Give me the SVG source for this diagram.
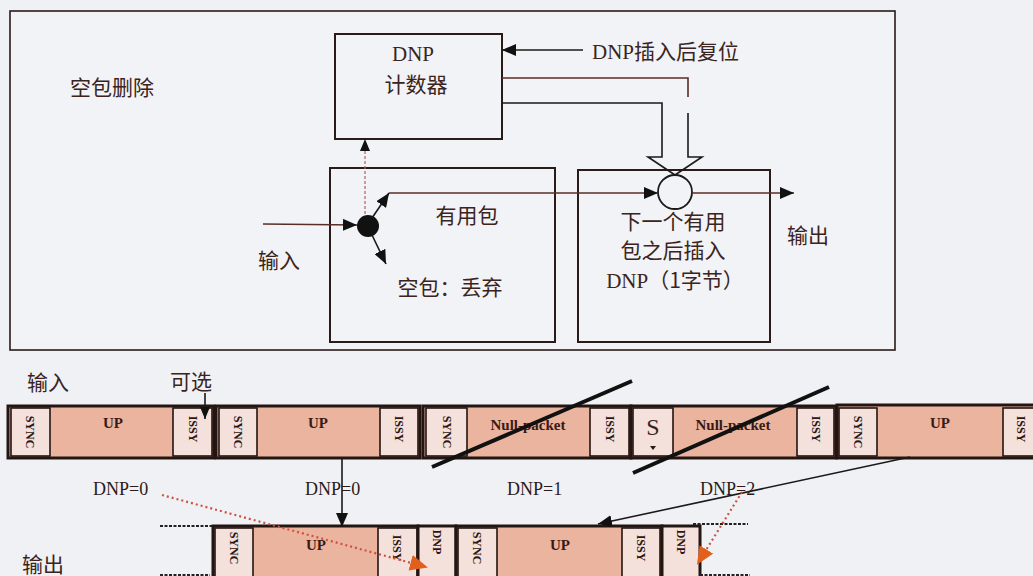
<svg xmlns="http://www.w3.org/2000/svg" width="1033" height="576" viewBox="0 0 1033 576">
<defs>
<style>
.cn{font-family:"Noto Sans CJK SC","Noto Sans",sans-serif;font-size:21px;fill:#3b2420}
.lat{font-family:"Liberation Serif",serif;fill:#3b2420}
.ln{fill:none;stroke:#5a2c26;stroke-width:1.6}
.bk{fill:none;stroke:#1a1a1a;stroke-width:1.6}
.box{fill:none;stroke:#2a1a18;stroke-width:2}
.pkt{fill:#eab49e;stroke:#231512;stroke-width:3}
.pktl{fill:#f5e1db;stroke:#231512;stroke-width:3}
.sm{fill:#f5e1db;stroke:#231512;stroke-width:1.6}
.rt{font-family:"Liberation Serif",serif;font-weight:bold;font-size:12px;fill:#2a1612}
.up{font-family:"Liberation Serif",serif;font-weight:bold;font-size:15px;fill:#3a1a14}
.dnp{font-family:"Liberation Serif",serif;font-size:18px;fill:#2a1a18}
.strike{stroke:#111;stroke-width:4;fill:none}
.dash{stroke:#222;stroke-width:2;stroke-dasharray:3 1.5;fill:none}
.red{stroke:#d05040;stroke-width:2.2;stroke-dasharray:2 3;fill:none}
</style>
<marker id="ah" markerUnits="userSpaceOnUse" markerWidth="14" markerHeight="12" refX="14" refY="6" orient="auto"><path d="M0,0 L14,6 L0,12 z" fill="#111"/></marker>
<marker id="ahs" markerUnits="userSpaceOnUse" markerWidth="12" markerHeight="10" refX="12" refY="5" orient="auto"><path d="M0,0 L12,5 L0,10 z" fill="#111"/></marker>
<marker id="ao" markerUnits="userSpaceOnUse" markerWidth="18" markerHeight="16" refX="16" refY="8" orient="auto"><path d="M0,0 L18,8 L0,16 z" fill="#e0601c"/></marker>
</defs>
<rect x="0" y="0" width="1033" height="576" fill="#f0f1f4"/>

<g id="panel">
<rect x="10" y="11" width="885" height="339" fill="#f2f3f6" stroke="#2a1a18" stroke-width="1.6"/>
<text class="cn" x="70" y="95">空包删除</text>
</g>

<g id="counter">
<rect class="box" x="335" y="34" width="167" height="105" fill="#f2f3f6"/>
<text class="lat" x="413" y="61" text-anchor="middle" font-size="21">DNP</text>
<text class="cn" x="416" y="92" text-anchor="middle">计数器</text>
</g>

<g id="filter">
<rect class="box" x="330" y="168" width="225" height="174"/>
<text class="cn" x="467" y="223" text-anchor="middle">有用包</text>
<text class="cn" x="450" y="295" text-anchor="middle">空包：丢弃</text>
</g>

<g id="insert">
<rect class="box" x="578" y="170" width="192" height="172"/>
<text class="cn" x="673" y="229" text-anchor="middle">下一个有用</text>
<text class="cn" x="673" y="258" text-anchor="middle">包之后插入</text>
<text x="675" y="288" text-anchor="middle"><tspan class="lat" font-size="21">DNP</tspan><tspan class="cn">（1字节）</tspan></text>
</g>

<g id="junction">
<circle cx="368" cy="226" r="11" fill="#111"/>
</g>

<g id="merge">
<circle cx="675" cy="192" r="17" fill="#f2f3f6" stroke="#1a1a1a" stroke-width="1.8"/>
</g>

<g id="labels-top">
<text class="cn" x="258" y="268">输入</text>
<text class="cn" x="787" y="243">输出</text>
<text x="592" y="59"><tspan class="lat" font-size="21">DNP</tspan><tspan class="cn">插入后复位</tspan></text>
</g>

<g id="labels-bottom">
<text class="cn" x="27" y="390">输入</text>
<text class="cn" x="170" y="389">可选</text>
<text class="cn" x="22" y="572">输出</text>
<text class="dnp" x="93" y="495">DNP=0</text>
<text class="dnp" x="305" y="495">DNP=0</text>
<text class="dnp" x="507" y="495">DNP=1</text>
<text class="dnp" x="700" y="495">DNP=2</text>
</g>

<g id="in-p1">
<rect class="pkt" x="8" y="406" width="206" height="52"/>
<rect class="sm" x="11" y="408" width="39" height="48"/>
<rect class="sm" x="173" y="408" width="39" height="48"/>
<text class="up" x="113" y="428" text-anchor="middle">UP</text>
<text class="rt" transform="translate(30,432) rotate(90)" text-anchor="middle" dominant-baseline="central">SYNC</text>
<text class="rt" transform="translate(193,429) rotate(90)" text-anchor="middle" dominant-baseline="central">ISSY</text>
</g>
<g id="in-p2">
<rect class="pkt" x="216" y="406" width="204" height="52"/>
<rect class="sm" x="219" y="408" width="38" height="48"/>
<rect class="sm" x="380" y="408" width="38" height="48"/>
<text class="up" x="318" y="428" text-anchor="middle">UP</text>
<text class="rt" transform="translate(238,432) rotate(90)" text-anchor="middle" dominant-baseline="central">SYNC</text>
<text class="rt" transform="translate(399,429) rotate(90)" text-anchor="middle" dominant-baseline="central">ISSY</text>
</g>
<g id="in-p3">
<rect class="pkt" x="423" y="406" width="208" height="52"/>
<rect class="sm" x="426" y="408" width="41" height="48"/>
<rect class="sm" x="590" y="408" width="39" height="48"/>
<text class="up" x="528" y="430" text-anchor="middle">Null-packet</text>
<text class="rt" transform="translate(447,432) rotate(90)" text-anchor="middle" dominant-baseline="central">SYNC</text>
<text class="rt" transform="translate(610,429) rotate(90)" text-anchor="middle" dominant-baseline="central">ISSY</text>
</g>
<g id="in-p4">
<rect class="pkt" x="631" y="406" width="205" height="52"/>
<rect class="sm" x="633" y="408" width="40" height="48"/>
<rect class="sm" x="797" y="408" width="37" height="48"/>
<text class="lat" x="653" y="435" text-anchor="middle" font-size="24">S</text>
<path d="M650,446 L656,446 L653,450 z" fill="#2a1612"/>
<text class="up" x="733" y="430" text-anchor="middle">Null-packet</text>
<text class="rt" transform="translate(816,429) rotate(90)" text-anchor="middle" dominant-baseline="central">ISSY</text>
</g>
<g id="in-p5">
<rect class="pkt" x="837" y="405" width="205" height="53"/>
<rect class="sm" x="839" y="408" width="38" height="48"/>
<rect class="sm" x="1003" y="408" width="38" height="48"/>
<text class="up" x="940" y="428" text-anchor="middle">UP</text>
<text class="rt" transform="translate(858,432) rotate(90)" text-anchor="middle" dominant-baseline="central">SYNC</text>
<text class="rt" transform="translate(1021,429) rotate(90)" text-anchor="middle" dominant-baseline="central">ISSY</text>
</g>

<g id="strikes">
<line class="strike" x1="432" y1="467" x2="632" y2="381"/>
<line class="strike" x1="633" y1="473" x2="829" y2="387"/>
</g>

<g id="out-p1">
<rect class="pkt" x="213" y="526" width="205" height="60"/>
<rect class="sm" x="215" y="528" width="38" height="56"/>
<rect class="sm" x="378" y="528" width="39" height="56"/>
<text class="up" x="316" y="550" text-anchor="middle">UP</text>
<text class="rt" transform="translate(234,548) rotate(90)" text-anchor="middle" dominant-baseline="central">SYNC</text>
<text class="rt" transform="translate(397,548) rotate(90)" text-anchor="middle" dominant-baseline="central">ISSY</text>
</g>
<g id="out-dnp1">
<rect class="pktl" x="418" y="526" width="38" height="60"/>
<text class="rt" transform="translate(437,542) rotate(90)" text-anchor="middle" dominant-baseline="central">DNP</text>
</g>
<g id="out-p2">
<rect class="pkt" x="456" y="526" width="206" height="60"/>
<rect class="sm" x="458" y="528" width="39" height="56"/>
<rect class="sm" x="622" y="528" width="38" height="56"/>
<text class="up" x="560" y="550" text-anchor="middle">UP</text>
<text class="rt" transform="translate(477,548) rotate(90)" text-anchor="middle" dominant-baseline="central">SYNC</text>
<text class="rt" transform="translate(641,548) rotate(90)" text-anchor="middle" dominant-baseline="central">ISSY</text>
</g>
<g id="out-dnp2">
<rect class="pktl" x="662" y="526" width="38" height="60"/>
<text class="rt" transform="translate(681,542) rotate(90)" text-anchor="middle" dominant-baseline="central">DNP</text>
</g>
<g id="out-dashes">
<line class="dash" x1="160" y1="526" x2="213" y2="526"/>
<line class="dash" x1="160" y1="575" x2="210" y2="575"/>
<line class="dash" x1="693" y1="524" x2="748" y2="524"/>
<line class="dash" x1="700" y1="575" x2="750" y2="575"/>
</g>

<g id="connectors">
<line class="ln" x1="263" y1="224" x2="357" y2="225" marker-end="url(#ah)"/>
<line class="bk" x1="372" y1="218" x2="389" y2="193" marker-end="url(#ah)"/>
<line class="ln" x1="389" y1="193" x2="658" y2="193" marker-end="url(#ah)"/>
<line class="bk" x1="372" y1="235" x2="386" y2="264" marker-end="url(#ah)"/>
<line x1="365" y1="214" x2="365" y2="139" stroke="#b06060" stroke-width="1.2" stroke-dasharray="3 2" marker-end="url(#ahs)"/>
<line class="ln" x1="692" y1="193" x2="794" y2="193" marker-end="url(#ah)"/>
<line class="bk" x1="583" y1="50" x2="502" y2="50" marker-end="url(#ah)"/>
<path class="ln" d="M502,78 H688 V97"/>
<path class="bk" d="M502,103 H662 V157 H648 L675,175 L702,157 H688 V113"/>
<line class="bk" x1="205" y1="393" x2="205" y2="419" marker-end="url(#ahs)"/>
<line class="bk" x1="342" y1="458" x2="342" y2="527" marker-end="url(#ah)"/>
<line class="bk" x1="910" y1="457" x2="598" y2="524" marker-end="url(#ah)"/>
<line class="red" x1="162" y1="495" x2="426" y2="567" marker-end="url(#ao)"/>
<line class="red" x1="742" y1="492" x2="698" y2="563" marker-end="url(#ao)"/>
</g>
</svg>
